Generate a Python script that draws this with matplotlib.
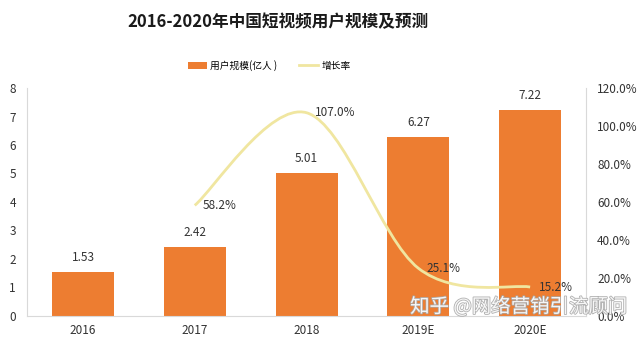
# -*- coding: utf-8 -*-
import matplotlib
matplotlib.use("Agg")
import matplotlib.pyplot as plt
import matplotlib.patheffects as pe
from matplotlib.path import Path
from matplotlib.patches import PathPatch
from matplotlib.lines import Line2D
from matplotlib.patches import Patch

plt.rcParams['font.family'] = ['Noto Sans CJK SC', 'DejaVu Sans']

years = ["2016", "2017", "2018", "2019E", "2020E"]
users = [1.53, 2.42, 5.01, 6.27, 7.22]           # 亿人
growth = [None, 0.582, 1.070, 0.251, 0.152]      # 增长率

TITLE = "2016-2020年中国短视频用户规模及预测"
BAR_LABEL = "用户规模(亿人 )"
LINE_LABEL = "增长率"
WATERMARK = "知乎 @网络营销引流顾问"

bar_color = '#ED7D31'
line_color = '#F0E6A0'
text_color = '#333333'
spine_color = '#D9D9D9'

fig = plt.figure(figsize=(6.44, 3.40), dpi=100)
ax = fig.add_axes([0.042, 0.071, 0.868, 0.670])

x = list(range(len(years)))
ax.bar(x, users, width=0.555, color=bar_color, zorder=2)
for xi, v in zip(x, users):
    ax.annotate(f"{v:.2f}", (xi, v), xytext=(0, 6), textcoords='offset points',
                ha='center', va='bottom', fontsize=8.5, color=text_color)

ax.set_xlim(-0.5, len(years) - 0.5)
ax.set_ylim(0, 8)
ax.set_yticks(range(0, 9))
ax.set_xticks(x)
ax.set_xticklabels(years)
ax.tick_params(axis='both', length=0, labelsize=8.5, colors=text_color)
ax.tick_params(axis='y', pad=8)
ax.tick_params(axis='x', pad=6)
for s in ['top', 'right']:
    ax.spines[s].set_visible(False)
ax.spines['left'].set_color(spine_color)
ax.spines['bottom'].set_color(spine_color)

ax2 = ax.twinx()
ax2.set_ylim(0, 1.2)
ax2.set_yticks([0, 0.2, 0.4, 0.6, 0.8, 1.0, 1.2])
ax2.set_yticklabels([f"{t * 100:.1f}%" for t in [0, 0.2, 0.4, 0.6, 0.8, 1.0, 1.2]])
ax2.tick_params(axis='y', length=0, labelsize=8.5, colors=text_color, pad=8)
for s in ['top', 'left', 'bottom']:
    ax2.spines[s].set_visible(False)
ax2.spines['right'].set_color(spine_color)

# smoothed line (Excel-style bezier through the data points)
pts = [(xi, g) for xi, g in zip(x, growth) if g is not None]
verts = [pts[0]]
codes = [Path.MOVETO]
n = len(pts)
for i in range(n - 1):
    p0 = pts[max(i - 1, 0)]
    p1 = pts[i]
    p2 = pts[i + 1]
    p3 = pts[min(i + 2, n - 1)]
    c1 = (p1[0] + (p2[0] - p0[0]) / 6, p1[1] + (p2[1] - p0[1]) / 6)
    c2 = (p2[0] - (p3[0] - p1[0]) / 6, p2[1] - (p3[1] - p1[1]) / 6)
    verts += [c1, c2, p2]
    codes += [Path.CURVE4] * 3
ax2.add_patch(PathPatch(Path(verts, codes), facecolor='none',
                        edgecolor=line_color, lw=2, zorder=3))
for px, py in pts:
    ax2.annotate(f"{py * 100:.1f}%", (px, py), xytext=(6, 0),
                 textcoords='offset points', ha='left', va='center',
                 fontsize=8.5, color=text_color)

fig.text(0.432, 0.935, TITLE, ha='center', va='center', fontsize=12,
         fontweight='bold', color='#1a1a1a')

handles = [Patch(facecolor=bar_color, edgecolor='none'),
           Line2D([0], [0], color=line_color, lw=2)]
fig.legend(handles, [BAR_LABEL, LINE_LABEL], loc='center', ncol=2,
           bbox_to_anchor=(0.418, 0.808), frameon=False, fontsize=7,
           handlelength=2.0, handleheight=0.7, columnspacing=2.2,
           handletextpad=0.3)

fig.text(0.806, 0.097, WATERMARK, ha='center', va='center', fontsize=14,
         color='white', alpha=0.9,
         path_effects=[pe.withStroke(linewidth=1.2, foreground='#a8a8a8')])

fig.savefig("out.png", dpi=100)
